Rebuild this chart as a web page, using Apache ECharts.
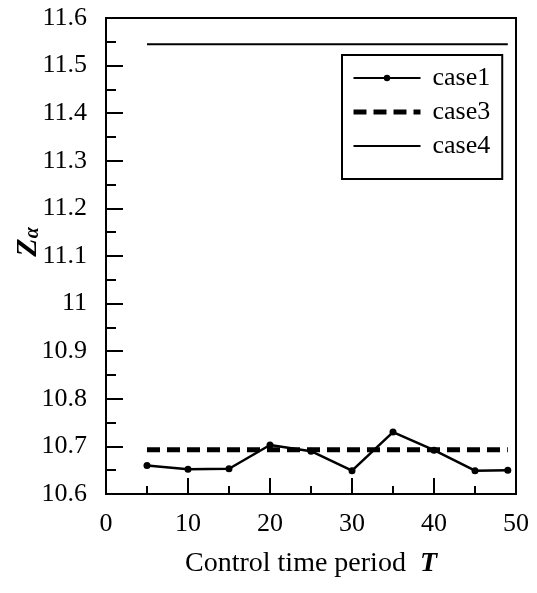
<!DOCTYPE html>
<html>
<head>
    <meta charset="utf-8"/>
    <style type="text/css">
        body, html { margin: 0; width: 100%; height: 100%; background: #fff; }
        #chart { width: 537px; height: 593px; }
    </style>
    <script src="https://cdn.jsdelivr.net/npm/echarts@6/dist/echarts.min.js"></script>
</head>
<body>
<div id="chart"></div>
<script type="text/javascript">
    // data
    var periods = [5, 10, 15, 20, 25, 30, 35, 40, 45, 49];
    var case1 = [10.660, 10.652, 10.653, 10.703, 10.690, 10.649, 10.730, 10.692, 10.649, 10.650];
    var case3Ends = [5, 49];
    var case3 = [10.693, 10.693];
    var case4Ends = [5, 49];
    var case4 = [11.545, 11.545];

    function pairs(xs, ys) {
        var out = [];
        for (var i = 0; i < xs.length; i++) out.push([xs[i], ys[i]]);
        return out;
    }

    var serif = '"Liberation Serif", "Times New Roman", serif';
    var myChart = echarts.init(document.getElementById('chart'));

    var option = {
        animation: false,
        backgroundColor: '#fff',
        textStyle: { fontFamily: serif, color: '#000' },
        grid: {
            left: 106, right: 21, top: 18, bottom: 99,
            outerBoundsMode: 'none', containLabel: false,
            show: true, borderColor: '#000', borderWidth: 2, backgroundColor: 'transparent'
        },
        legend: {
            orient: 'vertical',
            left: 342, top: 55,
            padding: [10, 12, 20, 9],
            borderColor: '#000', borderWidth: 2,
            itemWidth: 67, itemHeight: 8, itemGap: 8,
            textStyle: { fontFamily: serif, fontSize: 26, color: '#000', padding: [0, 0, 0, 7] },
            data: [
                { name: 'case1' },
                { name: 'case3', itemStyle: { opacity: 0 }, lineStyle: { width: 5 } },
                { name: 'case4', itemStyle: { opacity: 0 } }
            ]
        },
        xAxis: {
            type: 'value', min: 0, max: 50, interval: 10,
            name: 'Control time period  {t|T}',
            nameLocation: 'middle', nameGap: 56, nameMoveOverlap: false,
            nameTextStyle: {
                fontFamily: serif, fontSize: 28, color: '#000',
                rich: { t: { fontFamily: serif, fontSize: 28, fontWeight: 'bold', fontStyle: 'italic' } }
            },
            axisLine: { lineStyle: { color: '#000', width: 2 } },
            axisTick: { inside: true, length: 16, lineStyle: { color: '#000', width: 2 } },
            minorTick: { show: true, splitNumber: 2, length: 8, lineStyle: { color: '#000', width: 2 } },
            axisLabel: { fontFamily: serif, fontSize: 26, color: '#000', margin: 17 },
            splitLine: { show: false }
        },
        yAxis: {
            type: 'value', min: 10.6, max: 11.6, interval: 0.1,
            name: '{z|Z}{a|α}',
            nameLocation: 'middle', nameGap: 63, nameRotate: 90, nameMoveOverlap: false,
            nameTextStyle: {
                padding: [0, 0, 0, 28],
                rich: {
                    z: { fontFamily: serif, fontSize: 30, fontWeight: 'bold', fontStyle: 'italic', color: '#000' },
                    a: { fontFamily: serif, fontSize: 20, fontWeight: 'bold', fontStyle: 'italic', color: '#000', verticalAlign: 'bottom', padding: [10, 0, 0, 0] }
                }
            },
            axisLine: { lineStyle: { color: '#000', width: 2 } },
            axisTick: { inside: true, length: 17, lineStyle: { color: '#000', width: 2 } },
            minorTick: { show: true, splitNumber: 2, length: 10, lineStyle: { color: '#000', width: 2 } },
            axisLabel: { fontFamily: serif, fontSize: 26, color: '#000', margin: 19 },
            splitLine: { show: false }
        },
        series: [
            {
                name: 'case1', type: 'line',
                data: pairs(periods, case1),
                symbol: 'circle', symbolSize: 7,
                itemStyle: { color: '#000' },
                lineStyle: { color: '#000', width: 2.5 }
            },
            {
                name: 'case3', type: 'line',
                data: pairs(case3Ends, case3),
                symbol: 'none',
                itemStyle: { color: '#000' },
                lineStyle: { color: '#000', width: 5, type: [13, 7] }
            },
            {
                name: 'case4', type: 'line',
                data: pairs(case4Ends, case4),
                symbol: 'none',
                itemStyle: { color: '#000' },
                lineStyle: { color: '#000', width: 2 }
            }
        ]
    };
    myChart.setOption(option);
</script>
</body>
</html>
